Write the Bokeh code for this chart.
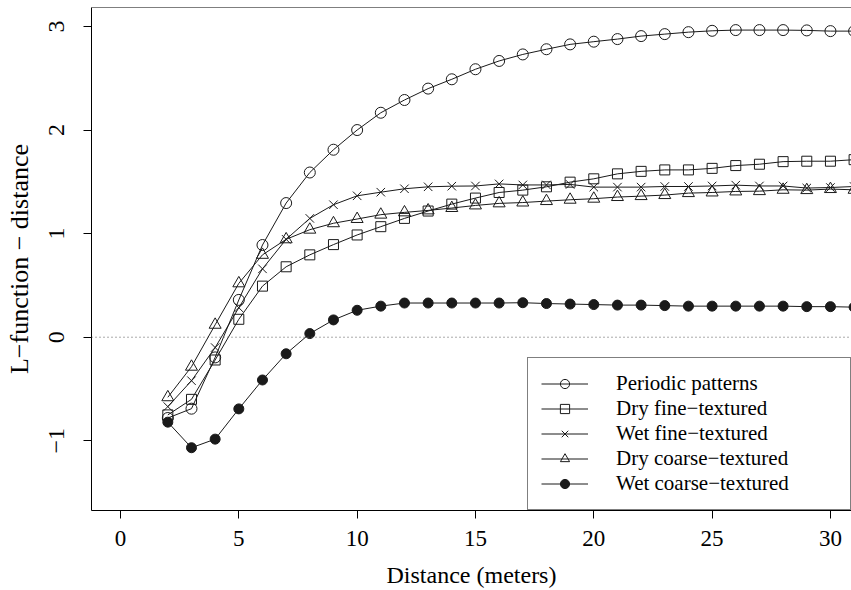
from bokeh.plotting import figure
from bokeh.models import Range1d, Span, Legend, LegendItem, FixedTicker
from bokeh.embed import file_html
from bokeh.resources import INLINE

distance = list(range(2, 32))
periodic = [-0.78, -0.69, -0.195, 0.36, 0.89, 1.295, 1.59, 1.81, 2.0, 2.167,
            2.29, 2.40, 2.49, 2.587, 2.667, 2.73, 2.78, 2.827, 2.853, 2.878,
            2.907, 2.926, 2.945, 2.958, 2.965, 2.965, 2.965, 2.962, 2.955, 2.955]
dry_fine = [-0.75, -0.60, -0.22, 0.173, 0.493, 0.68, 0.795, 0.894, 0.987, 1.067,
            1.147, 1.218, 1.285, 1.343, 1.397, 1.42, 1.452, 1.497, 1.529, 1.577,
            1.601, 1.615, 1.615, 1.63, 1.657, 1.67, 1.695, 1.699, 1.699, 1.714]
wet_fine = [-0.67, -0.42, -0.10, 0.285, 0.66, 0.945, 1.147, 1.279, 1.365, 1.40,
            1.433, 1.452, 1.458, 1.46, 1.48, 1.47, 1.47, 1.475, 1.449, 1.449,
            1.449, 1.455, 1.455, 1.46, 1.468, 1.46, 1.46, 1.44, 1.445, 1.455]
dry_coarse = [-0.58, -0.285, 0.12, 0.52, 0.795, 0.945, 1.038, 1.10, 1.141, 1.183,
              1.205, 1.224, 1.247, 1.272, 1.292, 1.30, 1.314, 1.327, 1.337, 1.353,
              1.362, 1.372, 1.391, 1.397, 1.407, 1.41, 1.423, 1.42, 1.43, 1.423]
wet_coarse = [-0.82, -1.067, -0.984, -0.692, -0.413, -0.16, 0.035, 0.167, 0.26, 0.30,
              0.33, 0.33, 0.33, 0.33, 0.33, 0.333, 0.325, 0.32, 0.315, 0.31,
              0.31, 0.305, 0.30, 0.30, 0.30, 0.30, 0.30, 0.295, 0.295, 0.29]

series_names = ["Periodic patterns", "Dry fine\u2212textured", "Wet fine\u2212textured",
                "Dry coarse\u2212textured", "Wet coarse\u2212textured"]
x_ticks = [0, 5, 10, 15, 20, 25, 30]
y_ticks = [-1, 0, 1, 2, 3]
x_title = "Distance (meters)"
y_title = "L\u2212function \u2212 distance"

FONT = "Liberation Serif"
INK = "#1a1a1a"

X0, X1 = -1.225, 30.89
Y0, Y1 = -1.673, 3.183

p = figure(width=851, height=590, output_backend="svg", toolbar_location=None,
           x_range=Range1d(X0, X1), y_range=Range1d(Y0, Y1),
           min_border_left=91, min_border_right=0, min_border_top=7, min_border_bottom=78)
p.title.text = ""
p.grid.visible = False
p.outline_line_color = None
p.background_fill_color = "white"
p.border_fill_color = "white"

for ax in (p.xaxis[0], p.yaxis[0]):
    ax.axis_line_color = "black"
    ax.axis_line_width = 1
    ax.major_tick_line_color = "black"
    ax.major_tick_in = 0
    ax.major_tick_out = 8
    ax.minor_tick_line_color = None
    ax.major_label_text_font = FONT
    ax.major_label_text_color = "black"
    ax.axis_label_text_font = FONT
    ax.axis_label_text_font_style = "normal"
    ax.axis_label_text_color = "black"

p.xaxis.ticker = FixedTicker(ticks=x_ticks)
p.yaxis.ticker = FixedTicker(ticks=y_ticks)
p.xaxis.axis_label = x_title
p.yaxis.axis_label = y_title
p.xaxis.major_label_text_font_size = "23px"
p.xaxis.major_label_standoff = 12
p.xaxis.axis_label_text_font_size = "24px"
p.xaxis.axis_label_standoff = 13
p.yaxis.major_label_text_font_size = "24px"
p.yaxis.major_label_orientation = "vertical"
p.yaxis.major_label_standoff = 19
p.yaxis.axis_label_text_font_size = "26px"
p.yaxis.axis_label_standoff = 13

# top frame line and dotted zero line
p.add_layout(Span(location=Y1, dimension="width", line_color="black", line_width=1))
p.add_layout(Span(location=0, dimension="width", line_color="#555555", line_width=1,
                  line_dash="1 3"))

all_series = [periodic, dry_fine, wet_fine, dry_coarse, wet_coarse]
markers = ["circle", "square", "x", "triangle", "circle"]
sizes = [11, 10, 12, 12, 10]
fills = [None, None, None, None, INK]

items = []
for name, ys, m, s, f in zip(series_names, all_series, markers, sizes, fills):
    ln = p.line(distance, ys, line_color=INK, line_width=1)
    sc = p.scatter(distance, ys, marker=m, size=s, line_color=INK, line_width=1,
                   fill_color=f)
    items.append(LegendItem(label=name, renderers=[ln, sc]))

legend = Legend(items=items, location="bottom_right", margin=0, padding=13,
                glyph_width=47, glyph_height=23, label_height=23, spacing=0,
                label_standoff=28, label_width=221,
                label_text_font=FONT, label_text_font_size="21px",
                label_text_color="black",
                border_line_color="black", border_line_width=1,
                background_fill_color="white", background_fill_alpha=1.0)
p.add_layout(legend, "center")

open("out.html", "w").write(file_html(p, INLINE))
